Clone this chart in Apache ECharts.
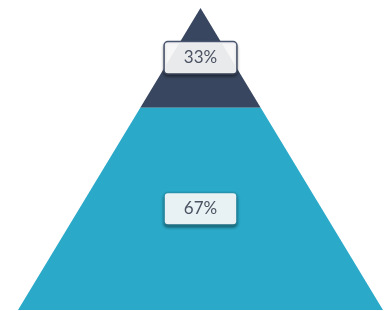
<!DOCTYPE html>
<html>
<head>
<meta charset="utf-8">
<script src="https://cdn.jsdelivr.net/npm/echarts@6/dist/echarts.min.js"></script>
<style>
  html, body { margin: 0; padding: 0; background: #fff; }
  #main { width: 390px; height: 311px; }
</style>
</head>
<body>
<div id="main"></div>
<script>
// pyramid levels, top to bottom
var levels = ['top', 'bottom'];
var values = [33, 67];
var colors = ['#38465f', '#2aa9c8'];

// cumulative start/end for each level (depth from apex)
var rows = [];
var acc = 0;
for (var i = 0; i < values.length; i++) {
  rows.push([acc, acc + values[i], values[i], i]);
  acc += values[i];
}

var myChart = echarts.init(document.getElementById('main'));

var option = {
  animation: false,
  grid: { left: 18, right: 7, top: 8, bottom: 1 },
  xAxis: { type: 'value', min: -1, max: 1, show: false },
  yAxis: { type: 'value', min: 0, max: 100, inverse: true, show: false },
  series: [{
    type: 'custom',
    data: rows,
    renderItem: function (params, api) {
      var s = api.value(0), e = api.value(1), v = api.value(2), idx = api.value(3);
      var hs = s / 100, he = e / 100;
      var pts = [
        api.coord([-hs, s]),
        api.coord([hs, s]),
        api.coord([he, e]),
        api.coord([-he, e])
      ];
      return {
        type: 'polygon',
        shape: { points: pts },
        style: { fill: colors[idx] },
        textContent: {
          style: {
            text: v + '%',
            fontFamily: 'Lato',
            fontSize: 17,
            fill: '#4b5262',
            backgroundColor: 'rgba(255,255,255,0.9)',
            borderColor: idx === 0 ? '#4a5670' : '#2795b0',
            borderWidth: 1.5,
            borderRadius: 3,
            padding: [7, 19],
            shadowBlur: 3,
            shadowOffsetY: 2,
            shadowColor: 'rgba(0,0,0,0.35)'
          }
        },
        textConfig: { position: 'inside' }
      };
    }
  }]
};

myChart.setOption(option);
</script>
</body>
</html>
